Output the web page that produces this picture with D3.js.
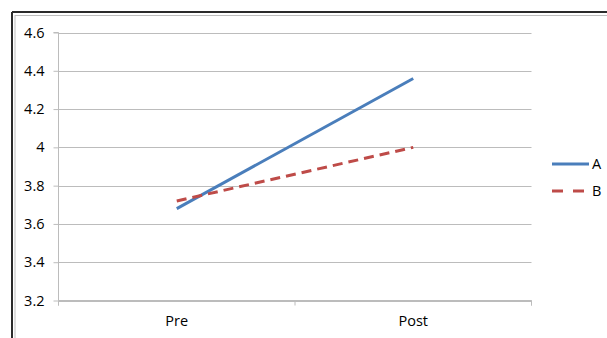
<!DOCTYPE html>
<html><head><meta charset="utf-8">
<script src="https://cdn.jsdelivr.net/npm/d3@7"></script>
<style>
html,body{margin:0;padding:0;background:#fff;}
text{font-family:"Open Sans",sans-serif;font-size:14.5px;fill:#000;}
</style></head>
<body>
<svg id="c" width="607" height="338"></svg>
<script>
(function(){
const categories = ["Pre", "Post"];
const seriesNames = ["A", "B"];
const seriesA = [3.68, 4.36];
const seriesB = [3.72, 4.00];
const yTicks = [3.2, 3.4, 3.6, 3.8, 4.0, 4.2, 4.4, 4.6];
const colors = ["#4A7EBB", "#BE4B48"];
const FS = "14.5px";

const svg = d3.select("#c");
// outer chart border (left & top visible)
svg.append("line").attr("x1",12).attr("x2",12).attr("y1",12).attr("y2",338).attr("stroke","#2b2b2b").attr("stroke-width",2);
svg.append("line").attr("x1",12).attr("x2",607).attr("y1",12).attr("y2",12).attr("stroke","#2b2b2b").attr("stroke-width",2);
svg.append("line").attr("x1",15).attr("x2",15).attr("y1",15).attr("y2",338).attr("stroke","#bdbdbd").attr("stroke-width",1);
svg.append("line").attr("x1",15).attr("x2",607).attr("y1",15.5).attr("y2",15.5).attr("stroke","#bdbdbd").attr("stroke-width",1);

const mLeft = 58.5, mRight = 531.5, mTop = 32.5, mBottom = 300.5;
const x = d3.scaleBand().domain(categories).range([mLeft, mRight]);
const y = d3.scaleLinear().domain([3.2, 4.6]).range([mBottom, mTop]);

// gridlines
svg.append("g").selectAll("line").data(yTicks).join("line")
  .attr("x1", mLeft).attr("x2", mRight)
  .attr("y1", d => Math.round(y(d)) + 0.5).attr("y2", d => Math.round(y(d)) + 0.5)
  .attr("stroke", "#bcbcbc").attr("stroke-width", 1);

// y axis
const yAxis = d3.axisLeft(y).tickValues(yTicks).tickSize(5).tickPadding(9)
  .tickFormat(d => d === 4 ? "4" : d3.format(".1f")(d));
const gy = svg.append("g").attr("transform", `translate(${mLeft},0)`).call(yAxis);
gy.select(".domain").attr("stroke", "#bcbcbc").attr("d", `M-5,${mTop}H0V${mBottom}`);
gy.selectAll(".tick line").attr("stroke", "#bcbcbc");
gy.selectAll(".tick text").style("font-family", "'Open Sans',sans-serif").style("font-size", FS).attr("fill", "#000");

// x axis
const xAxis = d3.axisBottom(x).tickSize(0).tickPadding(15);
const gx = svg.append("g").attr("transform", `translate(0,${mBottom})`).call(xAxis);
gx.select(".domain").attr("stroke", "#bcbcbc").attr("d", `M${mLeft},5V0H${mRight}V5`);
gx.selectAll(".tick text").style("font-family", "'Open Sans',sans-serif").style("font-size", FS).attr("fill", "#000");
// x tick marks at band boundaries
svg.append("g").selectAll("line").data([mLeft, mLeft + x.bandwidth(), mRight]).join("line")
  .attr("x1", d => d).attr("x2", d => d).attr("y1", mBottom).attr("y2", mBottom + 5)
  .attr("stroke", "#bcbcbc");

const line = d3.line().x((d, i) => x(categories[i]) + x.bandwidth() / 2).y(d => y(d));
const data = [seriesA, seriesB];
svg.append("g").selectAll("path").data(data).join("path")
  .attr("d", d => line(d)).attr("fill", "none")
  .attr("stroke", (d, i) => colors[i]).attr("stroke-width", 3)
  .attr("stroke-dasharray", (d, i) => i === 1 ? "10,6" : null);

// legend
const lg = svg.append("g").selectAll("g").data(seriesNames).join("g")
  .attr("transform", (d, i) => `translate(552,${164 + i * 27})`);
lg.append("line").attr("x1", 0).attr("x2", 37).attr("y1", 0).attr("y2", 0)
  .attr("stroke", (d, i) => colors[i]).attr("stroke-width", 3)
  .attr("stroke-dasharray", (d, i) => i === 1 ? "11,10" : null);
lg.append("text").attr("x", 40).attr("y", 0).attr("dy", "0.35em").style("font-size", FS).text(d => d);
})();
</script>
</body></html>
